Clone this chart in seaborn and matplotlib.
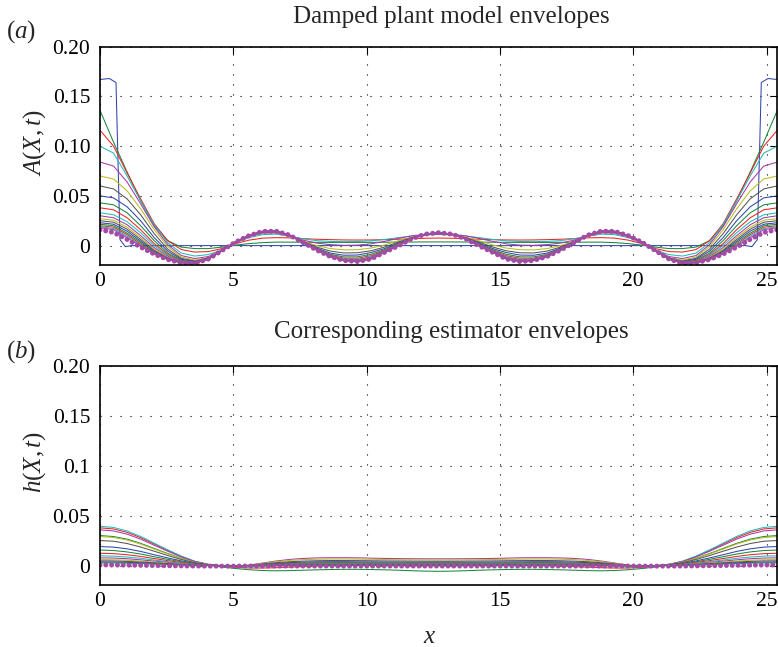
import numpy as np
import matplotlib
matplotlib.use("Agg")
import matplotlib.pyplot as plt
import seaborn as sns

# ---------------- data ----------------
x_grid = np.linspace(0, 25.4, 51)
x_ticks = [0, 5, 10, 15, 20, 25]
x_ticklabels = ["0", "5", "10", "15", "20", "25"]
y_ticks = [0, 0.05, 0.10, 0.15, 0.20]
y_ticklabels_a = ["0", "0.05", "0.10", "0.15", "0.20"]
y_ticklabels_b = ["0", "0.05", "0.1", "0.15", "0.20"]

# initial (step) profile of panel (a)
step_x = [0, 0.35, 0.6, 0.75, 0.95, 1.2, 24.2, 24.45, 24.65, 24.8, 25.05, 25.4]
step_y = [0.167, 0.168, 0.164, 0.006, -0.001, 0, 0, -0.001, 0.006, 0.164, 0.168, 0.167]

a01 = [.136,.104,.074,.045,.02,.005,-.0015,-.003,-.003,-.0015,.0005,.002,.003,.0035,.0035,.0034,.0033,.0032,.0032,.0032,.0033,.0034,.0035,.0036,.0037,.0037,
       .0037,.0036,.0035,.0034,.0033,.0032,.0032,.0032,.0033,.0034,.0035,.0035,.003,.002,.0005,-.0015,-.003,-.003,-.0015,.005,.02,.045,.074,.104,.136]
a02 = [.116,.1,.073,.047,.022,.005,-.004,-.0065,-.006,-.003,.002,.0055,.0075,.008,.0078,.007,.0064,.006,.0057,.0056,.0057,.006,.0064,.0069,.0074,.0076,
       .0074,.0069,.0064,.006,.0057,.0056,.0057,.006,.0064,.007,.0078,.008,.0075,.0055,.002,-.003,-.006,-.0065,-.004,.005,.022,.047,.073,.1,.116]
a03 = [.1,.093,.07,.045,.021,.003,-.0075,-.0105,-.009,-.0045,.003,.008,.011,.0115,.0095,.0068,.005,.0042,.004,.0041,.0048,.0062,.008,.0096,.0107,.0111,
       .0107,.0096,.008,.0062,.0048,.0041,.004,.0042,.005,.0068,.0095,.0115,.011,.008,.003,-.0045,-.009,-.0105,-.0075,.003,.021,.045,.07,.093,.1]
a04 = [.084,.08,.064,.042,.019,.001,-.01,-.013,-.011,-.0048,.0035,.009,.0125,.0128,.0098,.0055,.0025,.001,.0003,.0005,.0018,.0042,.0072,.0098,.0114,.0119,
       .0114,.0098,.0072,.0042,.0018,.0005,.0003,.001,.0025,.0055,.0098,.0128,.0125,.009,.0035,-.0048,-.011,-.013,-.01,.001,.019,.042,.064,.08,.084]
a05 = [.07,.067,.055,.037,.016,-.001,-.0115,-.0145,-.012,-.0049,.0036,.0095,.013,.0133,.01,.0045,0,-.003,-.0043,-.0041,-.0025,.0006,.0048,.0085,.011,.0118,
       .011,.0085,.0048,.0006,-.0025,-.0041,-.0043,-.003,0,.0045,.01,.0133,.013,.0095,.0036,-.0049,-.012,-.0145,-.0115,-.001,.016,.037,.055,.067,.07]
a06 = [.06,.057,.047,.031,.012,-.0035,-.0128,-.0155,-.0125,-.005,.0037,.0098,.0135,.0137,.0102,.004,-.0015,-.0055,-.0074,-.0072,-.0052,-.0015,.0035,.008,.011,.012,
       .011,.008,.0035,-.0015,-.0052,-.0072,-.0074,-.0055,-.0015,.004,.0102,.0137,.0135,.0098,.0037,-.005,-.0125,-.0155,-.0128,-.0035,.012,.031,.047,.057,.06]
a07 = [.05,.048,.039,.025,.008,-.0055,-.0138,-.016,-.013,-.005,.0038,.01,.0139,.014,.0103,.0037,-.0025,-.0075,-.0097,-.0095,-.007,-.003,.0024,.0075,.011,.0122,
       .011,.0075,.0024,-.003,-.007,-.0095,-.0097,-.0075,-.0025,.0037,.0103,.014,.0139,.01,.0038,-.005,-.013,-.016,-.0138,-.0055,.008,.025,.039,.048,.05]
a08 = [.043,.041,.033,.02,.005,-.0075,-.0148,-.0165,-.0132,-.005,.0038,.0101,.0141,.0142,.0104,.0035,-.0032,-.0088,-.0114,-.0113,-.0088,-.0042,.0016,.0072,.0111,.0124,
       .0111,.0072,.0016,-.0042,-.0088,-.0113,-.0114,-.0088,-.0032,.0035,.0104,.0142,.0141,.0101,.0038,-.005,-.0132,-.0165,-.0148,-.0075,.005,.02,.033,.041,.043]
a09 = [.038,.036,.028,.016,.002,-.0088,-.0155,-.0168,-.0133,-.005,.0037,.0101,.0142,.0143,.0104,.0033,-.0037,-.0097,-.0127,-.0127,-.0102,-.005,.001,.007,.0112,.0126,
       .0112,.007,.001,-.005,-.0102,-.0127,-.0127,-.0097,-.0037,.0033,.0104,.0143,.0142,.0101,.0037,-.005,-.0133,-.0168,-.0155,-.0088,.002,.016,.028,.036,.038]
a10 = [.033,.031,.024,.013,0,-.0098,-.016,-.0171,-.0134,-.005,.0036,.0101,.0142,.0144,.0104,.0032,-.004,-.0102,-.0136,-.0137,-.0111,-.0056,.0006,.0069,.0113,.0127,
       .0113,.0069,.0006,-.0056,-.0111,-.0137,-.0136,-.0102,-.004,.0032,.0104,.0144,.0142,.0101,.0036,-.005,-.0134,-.0171,-.016,-.0098,0,.013,.024,.031,.033]
a11 = [.03,.028,.021,.01,-.002,-.0108,-.0163,-.0173,-.0134,-.005,.0036,.01,.0142,.0144,.0104,.0031,-.0042,-.0105,-.0141,-.0144,-.0118,-.006,.0003,.0068,.0113,.0128,
       .0113,.0068,.0003,-.006,-.0118,-.0144,-.0141,-.0105,-.0042,.0031,.0104,.0144,.0142,.01,.0036,-.005,-.0134,-.0173,-.0163,-.0108,-.002,.01,.021,.028,.03]
a12 = [.027,.0255,.0185,.008,-.0035,-.0117,-.0166,-.0174,-.0135,-.005,.0036,.01,.0142,.0144,.0104,.0031,-.0043,-.0107,-.0145,-.0149,-.0123,-.0063,.0001,.0068,.0114,.0129,
       .0114,.0068,.0001,-.0063,-.0123,-.0149,-.0145,-.0107,-.0043,.0031,.0104,.0144,.0142,.01,.0036,-.005,-.0135,-.0174,-.0166,-.0117,-.0035,.008,.0185,.0255,.027]
a13 = [.025,.0235,.0165,.0062,-.0048,-.0124,-.0168,-.0175,-.0135,-.005,.0036,.01,.0142,.0145,.0105,.0031,-.0044,-.0108,-.0147,-.0153,-.0127,-.0065,0,.0068,.0114,.0129,
       .0114,.0068,0,-.0065,-.0127,-.0153,-.0147,-.0108,-.0044,.0031,.0105,.0145,.0142,.01,.0036,-.005,-.0135,-.0175,-.0168,-.0124,-.0048,.0062,.0165,.0235,.025]
a14 = [.023,.0215,.0145,.0045,-.0058,-.013,-.017,-.0176,-.0135,-.005,.0035,.01,.0143,.0145,.0105,.003,-.0044,-.0109,-.0148,-.0155,-.013,-.0066,-.0001,.0068,.0114,.0129,
       .0114,.0068,-.0001,-.0066,-.013,-.0155,-.0148,-.0109,-.0044,.003,.0105,.0145,.0143,.01,.0035,-.005,-.0135,-.0176,-.017,-.013,-.0058,.0045,.0145,.0215,.023]
a15 = [.0215,.02,.0125,.003,-.0068,-.0134,-.0171,-.0177,-.0135,-.005,.0035,.01,.0143,.0145,.0105,.003,-.0045,-.0109,-.0149,-.0157,-.0132,-.0067,-.0002,.0068,.0115,.013,
       .0115,.0068,-.0002,-.0067,-.0132,-.0157,-.0149,-.0109,-.0045,.003,.0105,.0145,.0143,.01,.0035,-.005,-.0135,-.0177,-.0171,-.0134,-.0068,.003,.0125,.02,.0215]
a16 = [.02,.0185,.011,.0015,-.0075,-.0137,-.0171,-.0177,-.0135,-.005,.0035,.01,.0143,.0145,.0105,.003,-.0045,-.011,-.0149,-.0158,-.0133,-.0067,-.0003,.0068,.0115,.013,
       .0115,.0068,-.0003,-.0067,-.0133,-.0158,-.0149,-.011,-.0045,.003,.0105,.0145,.0143,.01,.0035,-.005,-.0135,-.0177,-.0171,-.0137,-.0075,.0015,.011,.0185,.02]
a17 = [.019,.0172,.0095,.0005,-.008,-.0139,-.0172,-.0178,-.0135,-.005,.0035,.01,.0143,.0145,.0105,.003,-.0045,-.011,-.015,-.0159,-.0134,-.0068,-.0004,.0068,.0115,.013,
       .0115,.0068,-.0004,-.0068,-.0134,-.0159,-.015,-.011,-.0045,.003,.0105,.0145,.0143,.01,.0035,-.005,-.0135,-.0178,-.0172,-.0139,-.008,.0005,.0095,.0172,.019]
a18 = [.018,.016,.008,-.0005,-.0083,-.014,-.0172,-.0178,-.0135,-.005,.0035,.01,.0143,.0145,.0105,.003,-.0045,-.011,-.015,-.016,-.0134,-.0068,-.0004,.0068,.0115,.013,
       .0115,.0068,-.0004,-.0068,-.0134,-.016,-.015,-.011,-.0045,.003,.0105,.0145,.0143,.01,.0035,-.005,-.0135,-.0178,-.0172,-.014,-.0083,-.0005,.008,.016,.018]
a_final = [.016,.0132,.0062,-.0015,-.0085,-.014,-.0172,-.0178,-.0135,-.005,.0035,.01,.0143,.0145,.0105,.003,-.0045,-.011,-.015,-.016,-.0135,-.0068,-.0004,.0068,.0115,.013,
           .0115,.0068,-.0004,-.0068,-.0135,-.016,-.015,-.011,-.0045,.003,.0105,.0145,.0143,.01,.0035,-.005,-.0135,-.0178,-.0172,-.014,-.0085,-.0015,.0062,.0132,.016]

h01 = [.03,.029,.0264,.0222,.0171,.012,.0072,.0033,.0005,-.0015,-.003,-.0042,-.005,-.0053,-.0051,-.0047,-.0043,-.004,-.0038,-.0038,-.004,-.0043,-.0047,-.0052,-.0056,-.0058,
       -.0056,-.0052,-.0047,-.0043,-.004,-.0038,-.0038,-.004,-.0043,-.0047,-.0051,-.0053,-.005,-.0042,-.003,-.0015,.0005,.0033,.0072,.012,.0171,.0222,.0264,.029,.03]
h02 = [.0377,.0366,.0332,.0279,.0215,.0151,.0091,.0041,.001,-.0008,-.0018,-.0025,-.0025,-.0022,-.0016,-.001,-.0005,-.0002,0,.0001,.0001,0,-.0001,-.0002,-.0003,-.0003,
       -.0003,-.0002,-.0001,0,.0001,.0001,0,-.0002,-.0005,-.001,-.0016,-.0022,-.0025,-.0025,-.0018,-.0008,.001,.0041,.0091,.0151,.0215,.0279,.0332,.0366,.0377]
h03 = [.0393,.0381,.0346,.0291,.0224,.0157,.0094,.0043,.0012,-.0004,-.001,-.0012,-.0008,0,.0008,.0014,.0018,.002,.0021,.0021,.002,.0019,.0018,.0017,.0016,.0016,
       .0016,.0017,.0018,.0019,.002,.0021,.0021,.002,.0018,.0014,.0008,0,-.0008,-.0012,-.001,-.0004,.0012,.0043,.0094,.0157,.0224,.0291,.0346,.0381,.0393]
h04 = [.0357,.0346,.0314,.0264,.0203,.0143,.0086,.004,.0012,-.0003,-.0008,.0003,.0025,.0045,.0061,.0071,.0076,.0078,.0078,.0077,.0074,.0071,.0069,.0068,.0067,.0067,
       .0067,.0068,.0069,.0071,.0074,.0077,.0078,.0078,.0076,.0071,.0061,.0045,.0025,.0003,-.0008,-.0003,.0012,.004,.0086,.0143,.0203,.0264,.0314,.0346,.0357]
h05 = [.029,.0281,.0255,.0215,.0165,.0116,.007,.0032,.0009,-.0003,-.0007,.0002,.0021,.0038,.0051,.0059,.0063,.0065,.0065,.0064,.0062,.006,.0058,.0057,.0056,.0056,
       .0056,.0057,.0058,.006,.0062,.0064,.0065,.0065,.0063,.0059,.0051,.0038,.0021,.0002,-.0007,-.0003,.0009,.0032,.007,.0116,.0165,.0215,.0255,.0281,.029]
h06 = [.025,.0243,.022,.0185,.0143,.01,.006,.0028,.0008,-.0003,-.0006,.0001,.0015,.0028,.0038,.0044,.0048,.005,.005,.0049,.0048,.0046,.0045,.0044,.0043,.0043,
       .0043,.0044,.0045,.0046,.0048,.0049,.005,.005,.0048,.0044,.0038,.0028,.0015,.0001,-.0006,-.0003,.0008,.0028,.006,.01,.0143,.0185,.022,.0243,.025]
h07 = [.019,.0184,.0167,.0141,.0108,.0076,.0046,.0021,.0006,-.0002,-.0005,0,.0011,.0021,.0029,.0034,.0037,.0038,.0038,.0037,.0036,.0035,.0034,.0033,.0033,.0033,
       .0033,.0033,.0034,.0035,.0036,.0037,.0038,.0038,.0037,.0034,.0029,.0021,.0011,0,-.0005,-.0002,.0006,.0021,.0046,.0076,.0108,.0141,.0167,.0184,.019]
h08 = [.0155,.015,.0136,.0115,.0088,.0062,.0037,.0017,.0005,-.0002,-.0004,0,.0008,.0016,.0022,.0026,.0028,.0029,.0029,.0028,.0028,.0027,.0026,.0025,.0025,.0025,
       .0025,.0025,.0026,.0027,.0028,.0028,.0029,.0029,.0028,.0026,.0022,.0016,.0008,0,-.0004,-.0002,.0005,.0017,.0037,.0062,.0088,.0115,.0136,.015,.0155]
h09 = [.0123,.0119,.0108,.0091,.007,.0049,.003,.0014,.0004,-.0001,-.0003,0,.0006,.0012,.0016,.0019,.0021,.0022,.0022,.0021,.0021,.002,.0019,.0019,.0019,.0019,
       .0019,.0019,.0019,.002,.0021,.0021,.0022,.0022,.0021,.0019,.0016,.0012,.0006,0,-.0003,-.0001,.0004,.0014,.003,.0049,.007,.0091,.0108,.0119,.0123]
h10 = [.0097,.0094,.0085,.0072,.0055,.0039,.0023,.0011,.0003,-.0001,-.0002,0,.0004,.0009,.0012,.0014,.0015,.0016,.0016,.0016,.0015,.0015,.0014,.0014,.0014,.0014,
       .0014,.0014,.0014,.0015,.0015,.0016,.0016,.0016,.0015,.0014,.0012,.0009,.0004,0,-.0002,-.0001,.0003,.0011,.0023,.0039,.0055,.0072,.0085,.0094,.0097]
h11 = [.0077,.0075,.0068,.0057,.0044,.0031,.0018,.0008,.0002,-.0001,-.0002,0,.0003,.0007,.0009,.0011,.0012,.0012,.0012,.0012,.0012,.0011,.0011,.0011,.0011,.0011,
       .0011,.0011,.0011,.0011,.0012,.0012,.0012,.0012,.0012,.0011,.0009,.0007,.0003,0,-.0002,-.0001,.0002,.0008,.0018,.0031,.0044,.0057,.0068,.0075,.0077]
h12 = [.006,.0058,.0053,.0044,.0034,.0024,.0014,.0007,.0002,-.0001,-.0001,0,.0002,.0005,.0007,.0008,.0009,.0009,.0009,.0009,.0009,.0009,.0008,.0008,.0008,.0008,
       .0008,.0008,.0008,.0009,.0009,.0009,.0009,.0009,.0009,.0008,.0007,.0005,.0002,0,-.0001,-.0001,.0002,.0007,.0014,.0024,.0034,.0044,.0053,.0058,.006]
h13 = [.0047,.0046,.0041,.0035,.0027,.0019,.0011,.0005,.0001,-.0001,-.0001,0,.0002,.0004,.0005,.0006,.0007,.0007,.0007,.0007,.0007,.0007,.0006,.0006,.0006,.0006,
       .0006,.0006,.0006,.0007,.0007,.0007,.0007,.0007,.0007,.0006,.0005,.0004,.0002,0,-.0001,-.0001,.0001,.0005,.0011,.0019,.0027,.0035,.0041,.0046,.0047]
h14 = [.0036,.0035,.0032,.0027,.0021,.0014,.0009,.0004,.0001,0,-.0001,0,.0001,.0003,.0004,.0005,.0005,.0005,.0005,.0005,.0005,.0005,.0005,.0005,.0005,.0005,
       .0005,.0005,.0005,.0005,.0005,.0005,.0005,.0005,.0005,.0005,.0004,.0003,.0001,0,-.0001,0,.0001,.0004,.0009,.0014,.0021,.0027,.0032,.0035,.0036]
h15 = [.0027,.0026,.0024,.002,.0015,.0011,.0006,.0003,.0001,0,-.0001,0,.0001,.0002,.0003,.0004,.0004,.0004,.0004,.0004,.0004,.0004,.0004,.0004,.0004,.0004,
       .0004,.0004,.0004,.0004,.0004,.0004,.0004,.0004,.0004,.0004,.0003,.0002,.0001,0,-.0001,0,.0001,.0003,.0006,.0011,.0015,.002,.0024,.0026,.0027]
h_final = [.0006,.0005,.0004,.0002,0,-.0002,-.0004,-.0005,-.0006,-.0006,-.0006,-.0005,-.0005,-.0005,-.0005,-.0005,-.0005,-.0005,-.0005,-.0005,-.0005,-.0005,-.0005,-.0005,-.0005,-.0005,
           -.0005,-.0005,-.0005,-.0005,-.0005,-.0005,-.0005,-.0005,-.0005,-.0005,-.0005,-.0005,-.0005,-.0005,-.0006,-.0006,-.0006,-.0005,-.0004,-.0002,0,.0002,.0004,.0005,.0006]

curves_a = [a01, a02, a03, a04, a05, a06, a07, a08, a09, a10, a11, a12, a13, a14, a15, a16, a17, a18]
curves_h = [h01, h02, h03, h04, h05, h06, h07, h08, h09, h10, h11, h12, h13, h14, h15]

# MATLAB-like colour order: b, g, r, c, m, y, k
color_order = ["#3344aa", "#168a3c", "#ee2222", "#22bbbb", "#a43aa8", "#bbbb22", "#555555"]
dot_color = "#a54aa6"

# ---------------- styling ----------------
sns.set_theme(style="white")
plt.rcParams["font.family"] = ["Liberation Serif", "DejaVu Serif"]
plt.rcParams["mathtext.fontset"] = "custom"
plt.rcParams["mathtext.rm"] = "Liberation Serif"
plt.rcParams["mathtext.it"] = "Liberation Serif:italic"

W, H = 778, 647
fig = plt.figure(figsize=(W / 100, H / 100), dpi=100)
ax1 = fig.add_axes([100 / W, 1 - 265 / H, 677.3 / W, (265 - 46.7) / H])
ax2 = fig.add_axes([100 / W, 1 - 585 / H, 677.3 / W, (585 - 365.7) / H])

lw = 0.75
dot_lw = 3.6
dot_style = (0, (0.01, 1.15))
# panel (a)
sns.lineplot(x=step_x, y=step_y, color=color_order[0], linewidth=lw, ax=ax1,
             sort=False, estimator=None, legend=False)
for k, ys in enumerate(curves_a, start=1):
    sns.lineplot(x=x_grid, y=ys, color=color_order[k % 7], linewidth=lw, ax=ax1,
                 sort=False, estimator=None, legend=False)
sns.lineplot(x=x_grid, y=a_final, color=dot_color, linewidth=dot_lw, ax=ax1,
             linestyle=dot_style, dash_capstyle="round",
             sort=False, estimator=None, legend=False)

# panel (b)
for k, ys in enumerate(curves_h, start=1):
    sns.lineplot(x=x_grid, y=ys, color=color_order[k % 7], linewidth=lw, ax=ax2,
                 sort=False, estimator=None, legend=False)
sns.lineplot(x=x_grid, y=h_final, color=dot_color, linewidth=dot_lw, ax=ax2,
             linestyle=dot_style, dash_capstyle="round",
             sort=False, estimator=None, legend=False)

for ax, ylabs in ((ax1, y_ticklabels_a), (ax2, y_ticklabels_b)):
    ax.set_xlim(0, 25.4)
    ax.set_ylim(-0.0195, 0.2)
    ax.set_xticks(x_ticks)
    ax.set_xticklabels(x_ticklabels)
    ax.set_yticks(y_ticks)
    ax.set_yticklabels(ylabs)
    ax.set_xlabel("")
    ax.set_ylabel("")
    ax.grid(True, color="black", linestyle=(0, (1, 8)), linewidth=0.8)
    ax.set_axisbelow(True)
    ax.tick_params(direction="in", top=True, right=True, length=5, width=0.8,
                   labelsize=15.5, colors="black")
    ax.tick_params(axis="x", pad=5)
    ax.tick_params(axis="y", pad=7)
    for s in ax.spines.values():
        s.set_color("black")
        s.set_linewidth(1.2)
        s.set_visible(True)

fig.text(451 / W, 1 - 17 / H, "Damped plant model envelopes", ha="center", va="center", fontsize=18)
fig.text(451 / W, 1 - 332 / H, "Corresponding estimator envelopes", ha="center", va="center", fontsize=18)
fig.text(21 / W, 1 - 32 / H, r"$(a)$", ha="center", va="center", fontsize=18)
fig.text(21 / W, 1 - 352 / H, r"$(b)$", ha="center", va="center", fontsize=18)
fig.text(35 / W, 1 - 143 / H, r"$A(X,t)$", ha="center", va="center", rotation=90, fontsize=18)
fig.text(35 / W, 1 - 462 / H, r"$h(X,t)$", ha="center", va="center", rotation=90, fontsize=18)
fig.text(430 / W, 1 - 637 / H, r"$x$", ha="center", va="center", fontsize=18)

fig.savefig("out.png", dpi=100, facecolor="white")
